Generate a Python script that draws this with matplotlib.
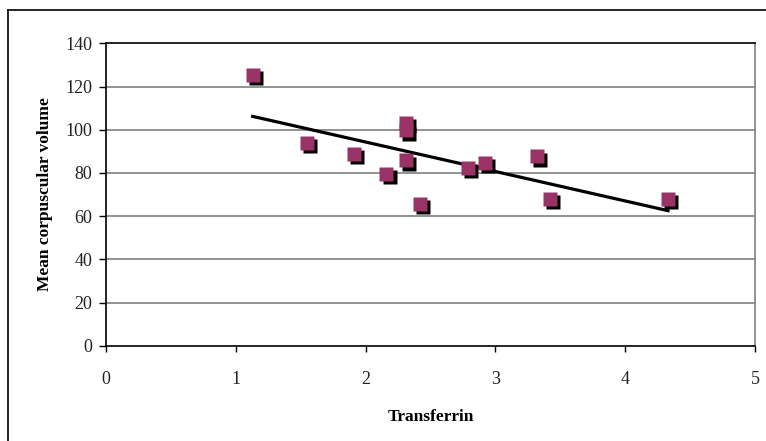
import numpy as np
import matplotlib
matplotlib.use('Agg')
import matplotlib.pyplot as plt
from matplotlib.transforms import offset_copy
from matplotlib.lines import Line2D

# Data
transferrin = [1.13, 1.55, 1.91, 2.16, 2.31, 2.31, 2.31, 2.42, 2.79, 2.92, 3.32, 3.42, 4.33]
mcv = [125.4, 93.9, 88.8, 79.5, 103.0, 99.7, 85.8, 65.6, 82.3, 84.6, 87.6, 67.9, 67.9]
x_ticks = [0, 1, 2, 3, 4, 5]
y_ticks = [0, 20, 40, 60, 80, 100, 120, 140]

plt.rcParams['font.family'] = ['Liberation Serif', 'DejaVu Serif']

fig = plt.figure(figsize=(7.66, 4.41), dpi=100)
ax = fig.add_axes([106 / 766, 1 - 345.7 / 441, 649 / 766, 302.4 / 441])

# Chart area border (left and top visible)
fig.add_artist(Line2D([7.5 / 766, 7.5 / 766], [0, 1 - 10 / 441], color='black', lw=1.2))
fig.add_artist(Line2D([7.5 / 766, 1], [1 - 10 / 441, 1 - 10 / 441], color='black', lw=1.2))

# Gridlines
for yv in y_ticks[1:-1]:
    ax.axhline(yv, color='#808080', lw=1.2, zorder=1)

# Linear trendline
coef = np.polyfit(transferrin, mcv, 1)
xs = np.array([min(transferrin), max(transferrin)])
ax.plot(xs, np.polyval(coef, xs), color='black', lw=2.3, zorder=3)

# Markers with shadow
shadow = offset_copy(ax.transData, fig=fig, x=2.3, y=-2.3, units='points')
ax.plot(transferrin, mcv, 's', ms=10.5, color='black', mec='none', transform=shadow, zorder=4)
ax.plot(transferrin, mcv, 's', ms=10.5, color='#993366', mec='none', zorder=5)

ax.set_xlim(0, 5)
ax.set_ylim(0, 140)
ax.set_xticks(x_ticks)
ax.set_yticks(y_ticks)
ax.tick_params(axis='x', direction='out', length=4, width=1, pad=14, labelsize=13, colors='#222222')
ax.tick_params(axis='y', direction='out', length=5, width=1, pad=5, labelsize=13, colors='#222222')
ax.tick_params(axis='both', color='black')

for side in ['left', 'bottom', 'top']:
    ax.spines[side].set_color('black')
    ax.spines[side].set_linewidth(1.2)
ax.spines['right'].set_color('#808080')
ax.spines['right'].set_linewidth(1.2)

ax.set_xlabel('Transferrin', fontsize=12.5, fontweight='bold', labelpad=15)
ax.set_ylabel('Mean corpuscular volume', fontsize=12.5, fontweight='bold', labelpad=9)

fig.savefig('out.png', dpi=100)
